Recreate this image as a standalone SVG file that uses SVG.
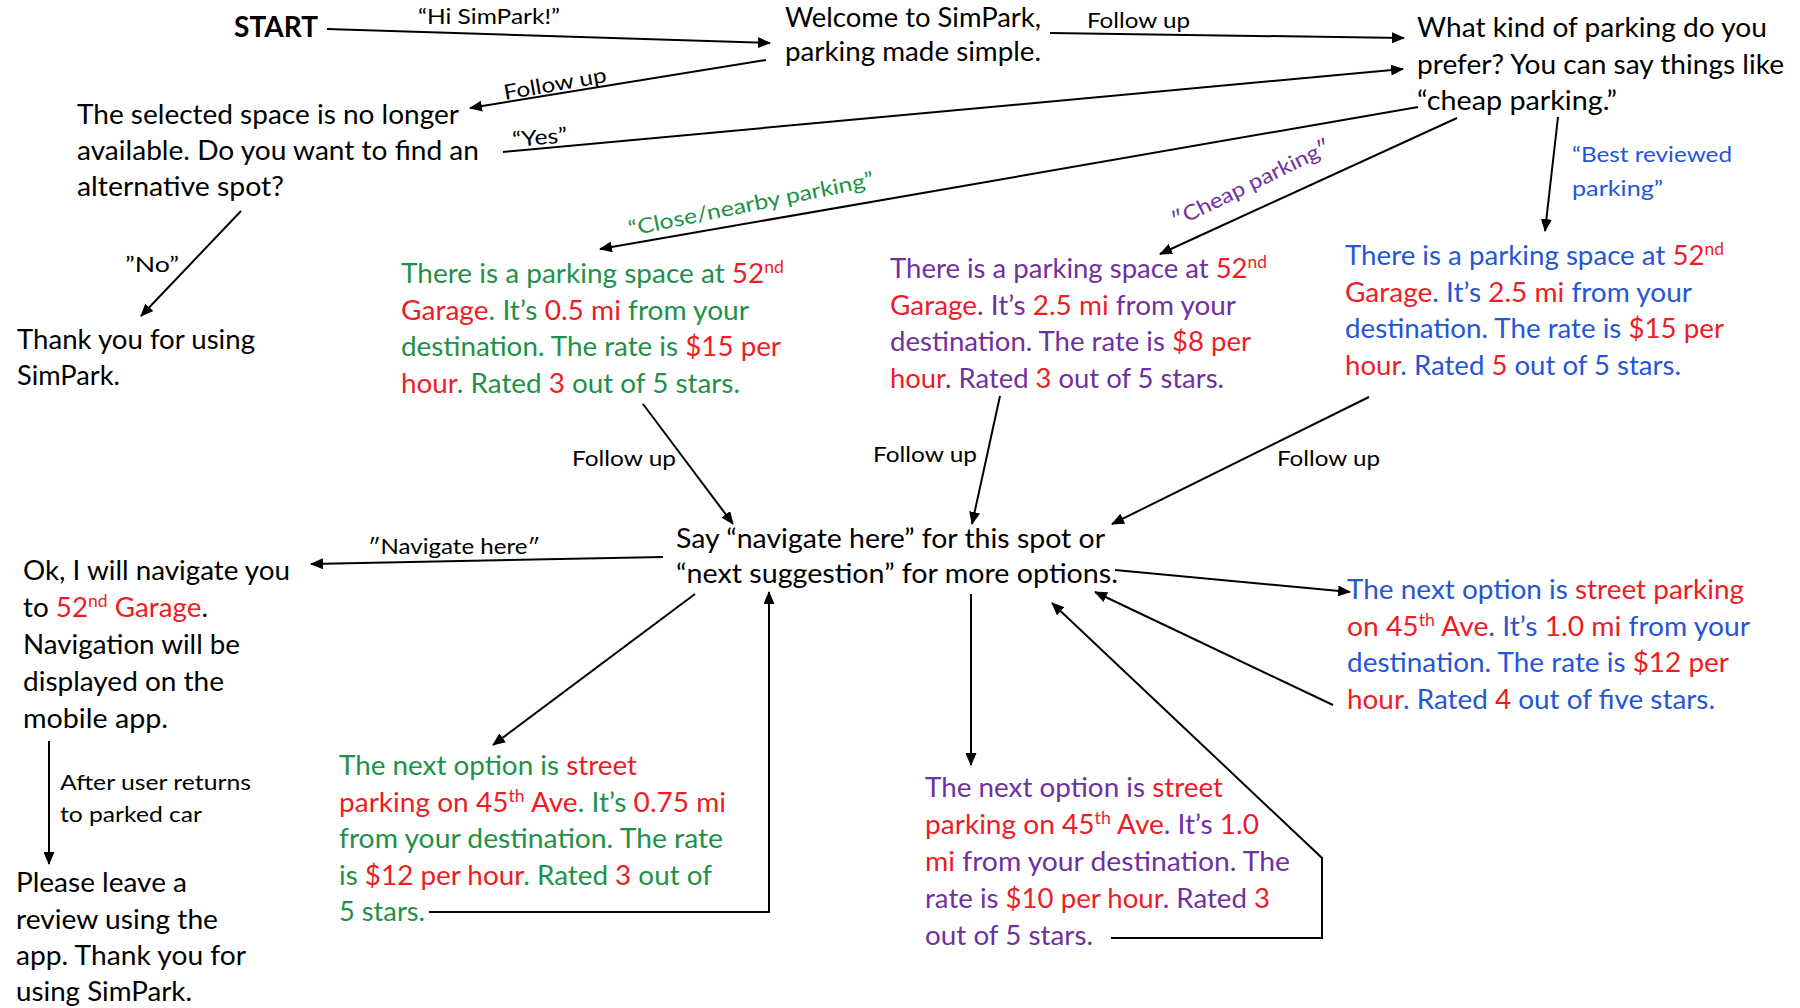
<svg xmlns="http://www.w3.org/2000/svg" width="1800" height="1008" viewBox="0 0 1800 1008">
<style>
text{font-family:Lato,"Open Sans","Liberation Sans",sans-serif;}
.t{font-size:27px;fill:#000;}
.lb{font-size:21px;fill:#000;}
.st{font-size:28px;font-weight:bold;fill:#000;}
.g{fill:#1E9148;}
.r{fill:#EE1C25;}
.p{fill:#7030A0;}
.b{fill:#2456D6;}
.sup{font-size:17px;}
.c{fill:none;stroke:#000;stroke-width:2;}
.a{marker-end:url(#ah);}
</style>
<defs>
<marker id="ah" markerUnits="userSpaceOnUse" markerWidth="13" markerHeight="11" refX="12" refY="5.5" orient="auto">
<path d="M0,0 L13,5.5 L0,11 z" fill="#000"/>
</marker>
</defs>
<rect width="1800" height="1008" fill="#fff"/>

<g id="connectors">
<line class="c a" x1="327" y1="29" x2="770" y2="43"/>
<line class="c a" x1="1050" y1="33" x2="1404" y2="38"/>
<line class="c a" x1="766" y1="60" x2="470" y2="108"/>
<line class="c a" x1="503" y1="152" x2="1403" y2="69"/>
<line class="c a" x1="241" y1="211" x2="141" y2="316"/>
<line class="c a" x1="1418" y1="107" x2="600" y2="249"/>
<line class="c a" x1="1457" y1="118" x2="1160" y2="254"/>
<line class="c a" x1="1558" y1="117" x2="1545" y2="231"/>
<line class="c a" x1="643" y1="404" x2="733" y2="524"/>
<line class="c a" x1="1000" y1="396" x2="972" y2="524"/>
<line class="c a" x1="1369" y1="397" x2="1112" y2="524"/>
<line class="c a" x1="663" y1="557" x2="311" y2="564"/>
<line class="c a" x1="49" y1="741" x2="49" y2="864"/>
<line class="c a" x1="695" y1="594" x2="493" y2="745"/>
<polyline class="c a" points="429,912 769,912 769,592"/>
<line class="c a" x1="1115" y1="570" x2="1350" y2="592"/>
<line class="c a" x1="1333" y1="705" x2="1095" y2="592"/>
<line class="c a" x1="971" y1="594" x2="971" y2="765"/>
<polyline class="c a" points="1111,938 1322,938 1322,858 1052,603"/>
</g>

<g id="edge-labels">
<text class="lb" x="418" y="24" textLength="142" lengthAdjust="spacingAndGlyphs">“Hi SimPark!”</text>
<text class="lb" x="1087" y="28" textLength="103" lengthAdjust="spacingAndGlyphs">Follow up</text>
<text class="lb" transform="translate(505,100) rotate(-10)" textLength="104" lengthAdjust="spacingAndGlyphs">Follow up</text>
<text class="lb" transform="translate(513,147) rotate(-5)" textLength="55" lengthAdjust="spacingAndGlyphs">“Yes”</text>
<text class="lb" x="125" y="272" textLength="54" lengthAdjust="spacingAndGlyphs">”No”</text>
<text class="lb g" transform="translate(630,236) rotate(-11.5)" textLength="250" lengthAdjust="spacingAndGlyphs">“Close/nearby parking”</text>
<text class="lb p" transform="translate(1176,228) rotate(-26)" textLength="174" lengthAdjust="spacingAndGlyphs">″Cheap parking″</text>
<text class="lb b" x="1572" y="162" textLength="160" lengthAdjust="spacingAndGlyphs">“Best reviewed</text>
<text class="lb b" x="1572" y="196" textLength="91" lengthAdjust="spacingAndGlyphs">parking”</text>
<text class="lb" x="572" y="466" textLength="104" lengthAdjust="spacingAndGlyphs">Follow up</text>
<text class="lb" x="873" y="462" textLength="104" lengthAdjust="spacingAndGlyphs">Follow up</text>
<text class="lb" x="1277" y="466" textLength="103" lengthAdjust="spacingAndGlyphs">Follow up</text>
<text class="lb" x="368" y="554" textLength="172" lengthAdjust="spacingAndGlyphs">″Navigate here″</text>
<text class="lb" x="60" y="790" textLength="191" lengthAdjust="spacingAndGlyphs">After user returns</text>
<text class="lb" x="60" y="822" textLength="142" lengthAdjust="spacingAndGlyphs">to parked car</text>
</g>

<g id="start">
<text class="st" x="234" y="37" textLength="84" lengthAdjust="spacingAndGlyphs">START</text>
</g>

<g id="welcome">
<text class="t" x="785" y="27" textLength="256" lengthAdjust="spacingAndGlyphs">Welcome to SimPark,</text>
<text class="t" x="785" y="61" textLength="256" lengthAdjust="spacingAndGlyphs">parking made simple.</text>
</g>

<g id="parking-preference">
<text class="t" x="1417" y="37" textLength="350" lengthAdjust="spacingAndGlyphs">What kind of parking do you</text>
<text class="t" x="1417" y="74" textLength="367" lengthAdjust="spacingAndGlyphs">prefer? You can say things like</text>
<text class="t" x="1417" y="110" textLength="200" lengthAdjust="spacingAndGlyphs">“cheap parking.”</text>
</g>

<g id="space-unavailable">
<text class="t" x="77" y="124" textLength="382" lengthAdjust="spacingAndGlyphs">The selected space is no longer</text>
<text class="t" x="77" y="160" textLength="402" lengthAdjust="spacingAndGlyphs">available. Do you want to find an</text>
<text class="t" x="77" y="196" textLength="207" lengthAdjust="spacingAndGlyphs">alternative spot?</text>
</g>

<g id="thank-you">
<text class="t" x="17" y="349" textLength="238" lengthAdjust="spacingAndGlyphs">Thank you for using</text>
<text class="t" x="17" y="385" textLength="103" lengthAdjust="spacingAndGlyphs">SimPark.</text>
</g>

<g id="close-option">
<text class="t" x="401" y="283" textLength="383" lengthAdjust="spacingAndGlyphs"><tspan class="g">There is a parking space at </tspan><tspan class="r">52</tspan><tspan class="r sup" dy="-10">nd</tspan></text>
<text class="t" x="401" y="320" textLength="348" lengthAdjust="spacingAndGlyphs"><tspan class="r">Garage</tspan><tspan class="g">. It’s </tspan><tspan class="r">0.5 mi</tspan><tspan class="g"> from your</tspan></text>
<text class="t" x="401" y="356" textLength="380" lengthAdjust="spacingAndGlyphs"><tspan class="g">destination. The rate is </tspan><tspan class="r">$15 per</tspan></text>
<text class="t" x="401" y="393" textLength="339" lengthAdjust="spacingAndGlyphs"><tspan class="r">hour</tspan><tspan class="g">. Rated </tspan><tspan class="r">3</tspan><tspan class="g"> out of 5 stars.</tspan></text>
</g>

<g id="cheap-option">
<text class="t" x="890" y="278" textLength="377" lengthAdjust="spacingAndGlyphs"><tspan class="p">There is a parking space at </tspan><tspan class="r">52</tspan><tspan class="r sup" dy="-10">nd</tspan></text>
<text class="t" x="890" y="315" textLength="346" lengthAdjust="spacingAndGlyphs"><tspan class="r">Garage</tspan><tspan class="p">. It’s </tspan><tspan class="r">2.5 mi</tspan><tspan class="p"> from your</tspan></text>
<text class="t" x="890" y="351" textLength="361" lengthAdjust="spacingAndGlyphs"><tspan class="p">destination. The rate is </tspan><tspan class="r">$8 per</tspan></text>
<text class="t" x="890" y="388" textLength="334" lengthAdjust="spacingAndGlyphs"><tspan class="r">hour</tspan><tspan class="p">. Rated </tspan><tspan class="r">3</tspan><tspan class="p"> out of 5 stars.</tspan></text>
</g>

<g id="best-option">
<text class="t" x="1345" y="265" textLength="379" lengthAdjust="spacingAndGlyphs"><tspan class="b">There is a parking space at </tspan><tspan class="r">52</tspan><tspan class="r sup" dy="-10">nd</tspan></text>
<text class="t" x="1345" y="302" textLength="347" lengthAdjust="spacingAndGlyphs"><tspan class="r">Garage</tspan><tspan class="b">. It’s </tspan><tspan class="r">2.5 mi</tspan><tspan class="b"> from your</tspan></text>
<text class="t" x="1345" y="338" textLength="379" lengthAdjust="spacingAndGlyphs"><tspan class="b">destination. The rate is </tspan><tspan class="r">$15 per</tspan></text>
<text class="t" x="1345" y="375" textLength="336" lengthAdjust="spacingAndGlyphs"><tspan class="r">hour</tspan><tspan class="b">. Rated </tspan><tspan class="r">5</tspan><tspan class="b"> out of 5 stars.</tspan></text>
</g>

<g id="say-navigate">
<text class="t" x="676" y="548" textLength="429" lengthAdjust="spacingAndGlyphs">Say “navigate here” for this spot or</text>
<text class="t" x="676" y="583" textLength="442" lengthAdjust="spacingAndGlyphs">“next suggestion” for more options.</text>
</g>

<g id="navigating">
<text class="t" x="23" y="580" textLength="267" lengthAdjust="spacingAndGlyphs">Ok, I will navigate you</text>
<text class="t" x="23" y="617" textLength="185" lengthAdjust="spacingAndGlyphs">to <tspan class="r">52</tspan><tspan class="r sup" dy="-10">nd</tspan><tspan class="r" dy="10"> Garage</tspan>.</text>
<text class="t" x="23" y="654" textLength="217" lengthAdjust="spacingAndGlyphs">Navigation will be</text>
<text class="t" x="23" y="691" textLength="201" lengthAdjust="spacingAndGlyphs">displayed on the</text>
<text class="t" x="23" y="728" textLength="145" lengthAdjust="spacingAndGlyphs">mobile app.</text>
</g>

<g id="leave-review">
<text class="t" x="16" y="892" textLength="171" lengthAdjust="spacingAndGlyphs">Please leave a</text>
<text class="t" x="16" y="929" textLength="202" lengthAdjust="spacingAndGlyphs">review using the</text>
<text class="t" x="16" y="965" textLength="230" lengthAdjust="spacingAndGlyphs">app. Thank you for</text>
<text class="t" x="16" y="1001" textLength="176" lengthAdjust="spacingAndGlyphs">using SimPark.</text>
</g>

<g id="next-close">
<text class="t" x="339" y="775" textLength="298" lengthAdjust="spacingAndGlyphs"><tspan class="g">The next option is </tspan><tspan class="r">street</tspan></text>
<text class="t" x="339" y="812" textLength="387" lengthAdjust="spacingAndGlyphs"><tspan class="r">parking on 45</tspan><tspan class="r sup" dy="-10">th</tspan><tspan class="r" dy="10"> Ave</tspan><tspan class="g">. It’s </tspan><tspan class="r">0.75 mi</tspan></text>
<text class="t" x="339" y="848" textLength="384" lengthAdjust="spacingAndGlyphs"><tspan class="g">from your destination. The rate</tspan></text>
<text class="t" x="339" y="885" textLength="373" lengthAdjust="spacingAndGlyphs"><tspan class="g">is </tspan><tspan class="r">$12 per hour</tspan><tspan class="g">. Rated </tspan><tspan class="r">3</tspan><tspan class="g"> out of</tspan></text>
<text class="t" x="339" y="921" textLength="86" lengthAdjust="spacingAndGlyphs"><tspan class="g">5 stars.</tspan></text>
</g>

<g id="next-best">
<text class="t" x="1347" y="599" textLength="397" lengthAdjust="spacingAndGlyphs"><tspan class="b">The next option is </tspan><tspan class="r">street parking</tspan></text>
<text class="t" x="1347" y="636" textLength="403" lengthAdjust="spacingAndGlyphs"><tspan class="r">on 45</tspan><tspan class="r sup" dy="-10">th</tspan><tspan class="r" dy="10"> Ave</tspan><tspan class="b">. It’s </tspan><tspan class="r">1.0 mi</tspan><tspan class="b"> from your</tspan></text>
<text class="t" x="1347" y="672" textLength="382" lengthAdjust="spacingAndGlyphs"><tspan class="b">destination. The rate is </tspan><tspan class="r">$12 per</tspan></text>
<text class="t" x="1347" y="709" textLength="368" lengthAdjust="spacingAndGlyphs"><tspan class="r">hour</tspan><tspan class="b">. Rated </tspan><tspan class="r">4</tspan><tspan class="b"> out of five stars.</tspan></text>
</g>

<g id="next-cheap">
<text class="t" x="925" y="797" textLength="298" lengthAdjust="spacingAndGlyphs"><tspan class="p">The next option is </tspan><tspan class="r">street</tspan></text>
<text class="t" x="925" y="834" textLength="334" lengthAdjust="spacingAndGlyphs"><tspan class="r">parking on 45</tspan><tspan class="r sup" dy="-10">th</tspan><tspan class="r" dy="10"> Ave</tspan><tspan class="p">. It’s </tspan><tspan class="r">1.0</tspan></text>
<text class="t" x="925" y="871" textLength="365" lengthAdjust="spacingAndGlyphs"><tspan class="r">mi</tspan><tspan class="p"> from your destination. The</tspan></text>
<text class="t" x="925" y="908" textLength="345" lengthAdjust="spacingAndGlyphs"><tspan class="p">rate is </tspan><tspan class="r">$10 per hour</tspan><tspan class="p">. Rated </tspan><tspan class="r">3</tspan></text>
<text class="t" x="925" y="945" textLength="168" lengthAdjust="spacingAndGlyphs"><tspan class="p">out of 5 stars.</tspan></text>
</g>
</svg>
